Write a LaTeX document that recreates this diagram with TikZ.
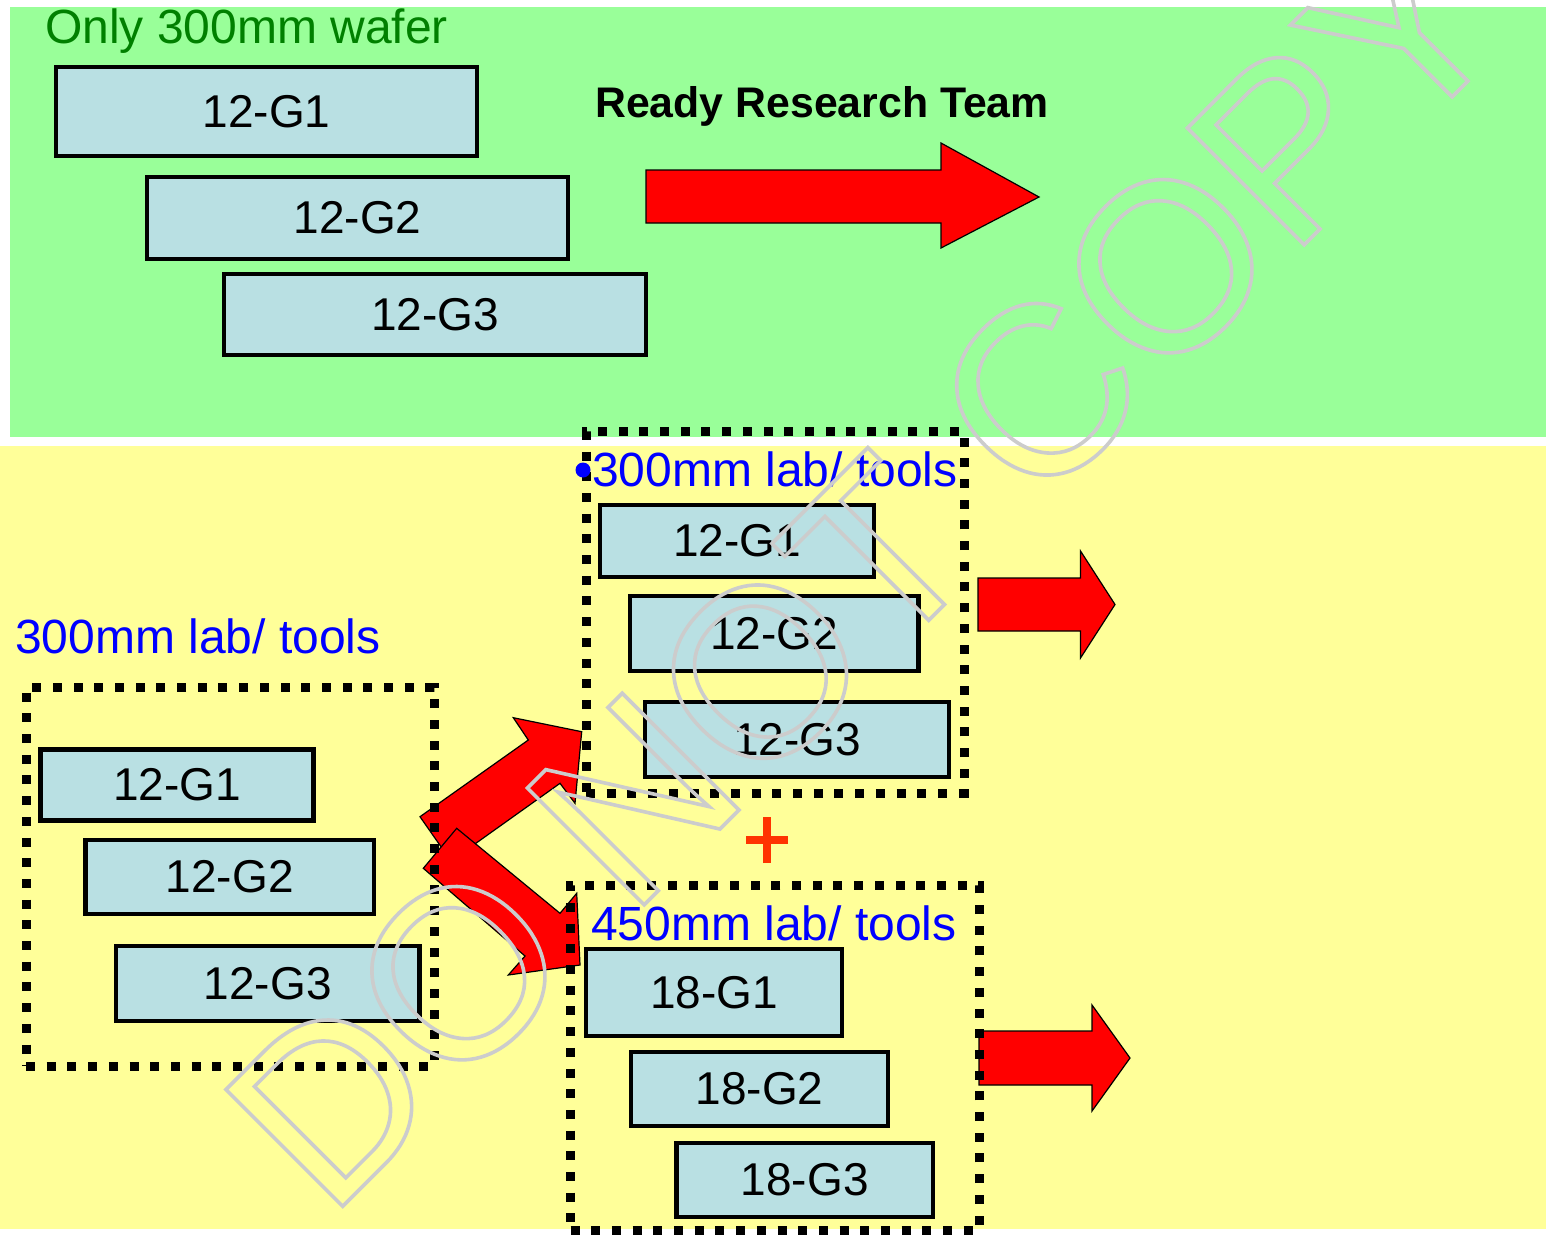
\documentclass[tikz,border=0pt]{standalone}
\usepackage{fontspec}
\setmainfont{Liberation Sans}

\definecolor{bggreen}{RGB}{153,255,153}
\definecolor{bgyellow}{RGB}{255,255,153}
\definecolor{toolfill}{RGB}{185,224,227}
\definecolor{labelblue}{RGB}{0,0,255}
\definecolor{titlegreen}{RGB}{0,128,0}
\definecolor{plusred}{RGB}{255,51,0}
\definecolor{wmgray}{RGB}{204,204,204}

\tikzset{
  toolbox/.style={draw=black, line width=4.8pt, fill=toolfill, inner sep=0pt,
    font=\fontsize{46}{46}\selectfont},
  groupbox/.style={draw=black, line width=9pt, dash pattern=on 9pt off 11.7pt,
    inner sep=0pt},
  grouplabel/.style={text=labelblue, anchor=base west, inner sep=0pt,
    font=\fontsize{48}{48}\selectfont},
  blockarrow/.style={fill=red, draw=black, line width=1.2pt, line join=miter},
}

\begin{document}
\begin{tikzpicture}[x=1pt, y=-1pt]
\useasboundingbox (0,0) rectangle (1546,1234);

% backgrounds of the two bands
\fill[bggreen] (10,7) rectangle (1546,437);
\fill[bgyellow] (0,446) rectangle (1546,1229);

% ---------- upper band ----------
\node[anchor=base west, inner sep=0pt, text=titlegreen,
      font=\fontsize{48}{48}\selectfont] (title) at (45,43) {Only 300mm wafer};
\node[toolbox, minimum width=421pt, minimum height=89pt] (ta) at (266.5,111.5) {12-G1};
\node[toolbox, minimum width=421pt, minimum height=82pt] (tb) at (357.5,218) {12-G2};
\node[toolbox, minimum width=422pt, minimum height=81pt] (tc) at (435,314.5) {12-G3};

\node[anchor=base west, inner sep=0pt,
      font=\bfseries\fontsize{42.8}{42.8}\selectfont] (ready) at (595,117) {Ready Research Team};
\draw[blockarrow] (646,170) -- (941,170) -- (941,143) -- (1039,197)
  -- (941,248) -- (941,223) -- (646,223) -- cycle;

% ---------- lower band: arrows first, group frames on top ----------
% branch to the upper group
\draw[blockarrow] (420,816.7) -- (528.3,740) -- (513.3,717.7) -- (581.7,731.7)
  -- (575,803.3) -- (560,783.3) -- (451,861) -- cycle;
% branch to the lower group
\draw[blockarrow] (456.7,828.3) -- (560,913.3) -- (576.7,893.3) -- (580,965)
  -- (508.3,975) -- (525,956) -- (423.3,868.3) -- cycle;
% outgoing arrows
\draw[blockarrow] (978,578) -- (1080.5,578) -- (1080.5,551) -- (1115,604.5)
  -- (1080.5,658) -- (1080.5,631) -- (978,631) -- cycle;
\draw[blockarrow] (979,1031) -- (1092,1031) -- (1092,1005) -- (1130,1058)
  -- (1092,1111) -- (1092,1085) -- (979,1085) -- cycle;

% left group
\node[grouplabel] (leftlabel) at (15,653) {300mm lab/ tools};
\node[groupbox, minimum width=408pt, minimum height=379pt] (leftgroup) at (230,876.5) {};
\node[toolbox, minimum width=273pt, minimum height=71pt] (la) at (177,785) {12-G1};
\node[toolbox, minimum width=288.5pt, minimum height=74pt] (lb) at (229.75,877) {12-G2};
\node[toolbox, minimum width=303.5pt, minimum height=75pt] (lc) at (267.75,983.5) {12-G3};

% upper right group
\node[groupbox, minimum width=378pt, minimum height=362pt] (upgroup) at (775,612) {};
\node[circle, fill=labelblue, minimum size=15pt, inner sep=0pt] (bullet) at (583,470) {};
\node[grouplabel] (uplabel) at (592,486) {300mm lab/ tools};
\node[toolbox, minimum width=274pt, minimum height=72pt] (ua) at (737,541) {12-G1};
\node[toolbox, minimum width=288.5pt, minimum height=75pt] (ub) at (774.25,633.5) {12-G2};
\node[toolbox, minimum width=304pt, minimum height=75pt] (uc) at (797,739.5) {12-G3};

% plus sign between the right groups
\coordinate (plus) at (767,840);
\draw[plusred, line width=8pt] ([xshift=-21pt]plus) -- ([xshift=21pt]plus)
  ([yshift=-23pt]plus) -- ([yshift=23pt]plus);

% lower right group
\node[groupbox, minimum width=408.5pt, minimum height=345pt] (lowgroup) at (774.75,1057.5) {};
\node[grouplabel] (lowlabel) at (591,940) {450mm lab/ tools};
\node[toolbox, minimum width=256pt, minimum height=87pt] (da) at (714,992.5) {18-G1};
\node[toolbox, minimum width=257pt, minimum height=74pt] (db) at (759.5,1089) {18-G2};
\node[toolbox, minimum width=256.5pt, minimum height=74pt] (dc) at (804.75,1180) {18-G3};

% outlined watermark across the whole sheet
\node[anchor=base west, inner sep=0pt, rotate=45, text=wmgray,
      font=\fontsize{240}{240}\selectfont] (stamp) at (328.6,1220.4)
  {\special{pdf:literal direct 1 Tr 3.6 w}DO NOT COPY\special{pdf:literal direct 0 Tr}};
\end{tikzpicture}
\end{document}
